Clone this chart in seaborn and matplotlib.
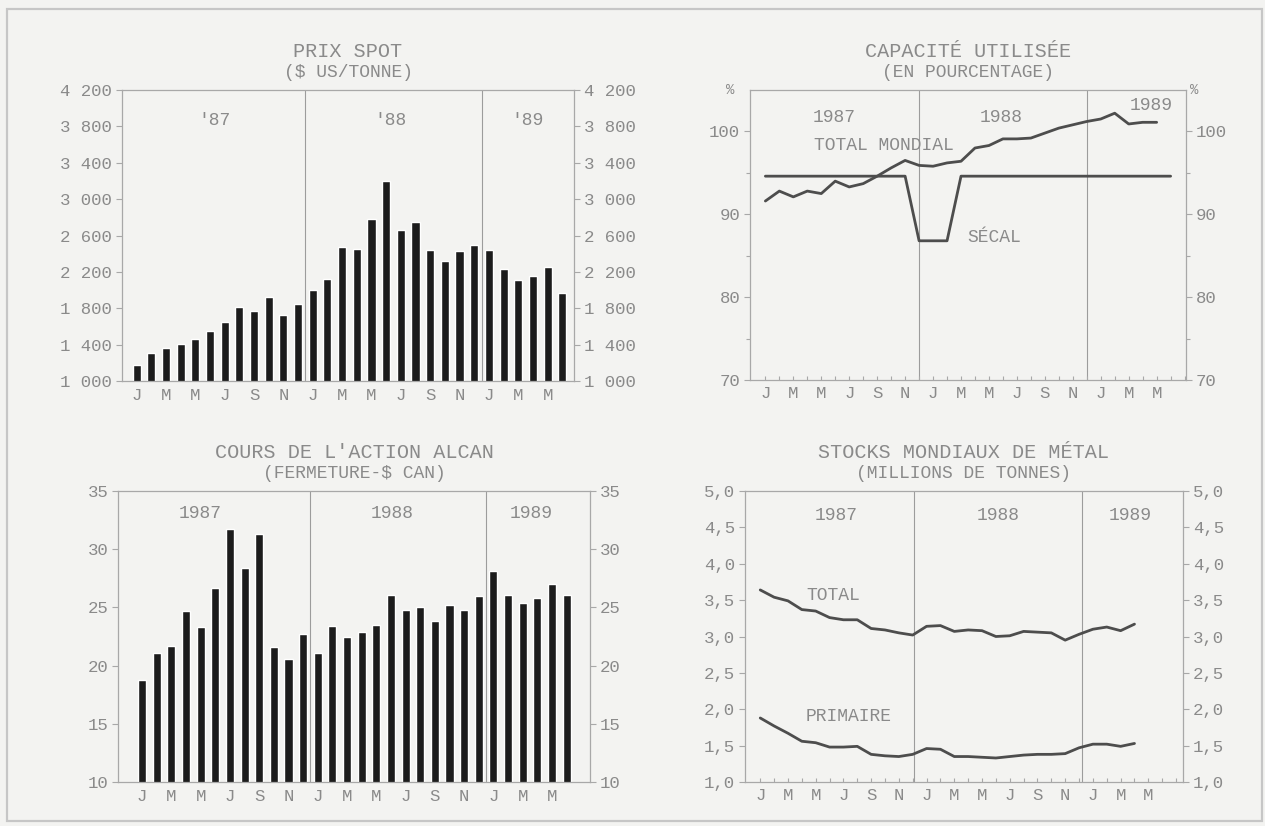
import matplotlib
matplotlib.use("Agg")
import matplotlib.pyplot as plt
import numpy as np
import pandas as pd
import seaborn as sns
from matplotlib.patches import Rectangle
from matplotlib.ticker import FuncFormatter, MultipleLocator, FixedLocator

# ---- data, Jan 1987 onwards, monthly ----
month_letters = ["J", "F", "M", "A", "M", "J", "J", "A", "S", "O", "N", "D"] * 2 + ["J", "F", "M", "A", "M", "J"]

prix_spot = [1180, 1310, 1365, 1410, 1465, 1545, 1650, 1810, 1770, 1920, 1730, 1845,
             2000, 2125, 2470, 2455, 2785, 3200, 2665, 2745, 2440, 2320, 2430, 2500,
             2445, 2230, 2110, 2150, 2250, 1970]
prix_ticks = [1000, 1400, 1800, 2200, 2600, 3000, 3400, 3800, 4200]

total_mondial = [91.6, 92.8, 92.1, 92.8, 92.5, 94.0, 93.3, 93.7, 94.6, 95.6, 96.5, 95.9,
                 95.8, 96.2, 96.4, 98.0, 98.3, 99.1, 99.1, 99.2, 99.8, 100.4, 100.8, 101.2,
                 101.5, 102.2, 100.9, 101.1, 101.1]
secal = [94.6] * 11 + [86.8] * 3 + [94.6] * 16

alcan = [18.8, 21.1, 21.7, 24.7, 23.3, 26.7, 31.7, 28.4, 31.3, 21.6, 20.6, 22.7,
         21.1, 23.4, 22.5, 22.9, 23.5, 26.1, 24.8, 25.0, 23.8, 25.2, 24.8, 26.0,
         28.1, 26.1, 25.4, 25.8, 27.0, 26.1]

stocks_total = [3.64, 3.54, 3.49, 3.37, 3.35, 3.26, 3.23, 3.23, 3.11, 3.09, 3.05, 3.02,
                3.14, 3.15, 3.07, 3.09, 3.08, 3.00, 3.01, 3.07, 3.06, 3.05, 2.95, 3.03,
                3.10, 3.13, 3.08, 3.17]
stocks_primaire = [1.88, 1.77, 1.67, 1.56, 1.54, 1.48, 1.48, 1.49, 1.38, 1.36, 1.35, 1.38,
                   1.46, 1.45, 1.35, 1.35, 1.34, 1.33, 1.35, 1.37, 1.38, 1.38, 1.39, 1.47,
                   1.52, 1.52, 1.49, 1.53]

# ---- style ----
BG = "#f3f3f1"
TXT = "#8a8a8a"
SPINE = "#a8a8a8"
BAR = "#1c1c1c"
LINE = "#4d4d4d"
W, H = 1265, 826

sns.set_theme(style="white")
plt.rcParams['font.family'] = ['Liberation Mono', 'DejaVu Sans']
plt.rcParams['text.color'] = TXT

fig = plt.figure(figsize=(W / 100, H / 100), dpi=100, facecolor=BG)


def px_axes(x0, y0, x1, y1):
    return fig.add_axes([x0 / W, 1 - y1 / H, (x1 - x0) / W, (y1 - y0) / H])


def style_axes(ax, title, subtitle, dividers, minor_x=False):
    ax.set_facecolor(BG)
    for s in ax.spines.values():
        s.set_color(SPINE)
        s.set_linewidth(0.9)
    for d in dividers:
        ax.axvline(d, color="#9c9c9c", lw=0.8, zorder=0)
    ax.set_xticks(range(0, 30, 2))
    ax.set_xticklabels(month_letters[0:30:2])
    ax.set_xlabel("")
    ax.set_ylabel("")
    ax.tick_params(axis="y", which="both", left=True, right=True, labelleft=True,
                   labelright=True, direction="out", length=4, width=0.8,
                   color=SPINE, labelcolor=TXT, labelsize=12.5, pad=3)
    ax.tick_params(axis="y", which="minor", length=3)
    if minor_x:
        ax.xaxis.set_minor_locator(FixedLocator(range(0, 31)))
        ax.tick_params(axis="x", which="both", bottom=True, direction="in", length=3,
                       width=0.8, color=SPINE, labelcolor=TXT, labelsize=12.5, pad=4)
    else:
        ax.tick_params(axis="x", bottom=True, length=0, labelcolor=TXT,
                       labelsize=12.5, pad=5)
    ax.annotate(title, xy=(0.5, 1), xycoords="axes fraction", xytext=(0, 28),
                textcoords="offset points", ha="center", va="center", fontsize=14.5)
    ax.annotate(subtitle, xy=(0.5, 1), xycoords="axes fraction", xytext=(0, 12.5),
                textcoords="offset points", ha="center", va="center", fontsize=13)


idx = list(range(30))

# ---- PRIX SPOT ----
ax1 = px_axes(122, 90, 574, 381)
sns.barplot(x=idx, y=prix_spot, color=BAR, saturation=1, width=0.55, ax=ax1, zorder=2)
ax1.set_ylim(1000, 4200)
ax1.set_xlim(-1.0, 29.8)
ax1.yaxis.set_major_locator(FixedLocator(prix_ticks))
ax1.yaxis.set_major_formatter(FuncFormatter(lambda v, p: f"{int(round(v)):,}".replace(",", " ")))
style_axes(ax1, "PRIX SPOT", "($ US/TONNE)", [11.5, 23.5])
for x, lab in [(5.3, "'87"), (17.3, "'88"), (26.6, "'89")]:
    ax1.text(x, 3860, lab, ha="center", va="center", fontsize=13)

# ---- CAPACITE UTILISEE ----
ax2 = px_axes(750, 90, 1186, 380)
sns.lineplot(x=idx[:len(total_mondial)], y=total_mondial, color=LINE, lw=2, ax=ax2)
sns.lineplot(x=idx[:len(secal)], y=secal, color=LINE, lw=2, ax=ax2)
ax2.set_ylim(70, 105)
ax2.set_xlim(-1.1, 30.1)
ax2.yaxis.set_major_locator(FixedLocator([70, 80, 90, 100]))
ax2.yaxis.set_minor_locator(FixedLocator([75, 85, 95]))
style_axes(ax2, "CAPACITÉ UTILISÉE", "(EN POURCENTAGE)", [11, 23], minor_x=True)
ax2.annotate("%", xy=(0, 1), xycoords="axes fraction", xytext=(-14, 0),
             textcoords="offset points", ha="center", va="center", fontsize=10)
ax2.annotate("%", xy=(1, 1), xycoords="axes fraction", xytext=(6, 0),
             textcoords="offset points", ha="center", va="center", fontsize=10)
ax2.text(4.9, 101.7, "1987", ha="center", va="center", fontsize=13)
ax2.text(16.9, 101.7, "1988", ha="center", va="center", fontsize=13)
ax2.text(27.6, 103.1, "1989", ha="center", va="center", fontsize=13)
ax2.text(8.5, 98.3, "TOTAL MONDIAL", ha="center", va="center", fontsize=13)
ax2.text(16.4, 87.2, "SÉCAL", ha="center", va="center", fontsize=13)

# ---- COURS DE L'ACTION ALCAN ----
ax3 = px_axes(118, 491, 590, 782)
sns.barplot(x=idx, y=alcan, color=BAR, saturation=1, width=0.55, ax=ax3, zorder=2)
ax3.set_ylim(10, 35)
ax3.set_xlim(-1.65, 30.6)
ax3.yaxis.set_major_locator(MultipleLocator(5))
style_axes(ax3, "COURS DE L'ACTION ALCAN", "(FERMETURE-$ CAN)", [11.5, 23.5])
for x, lab in [(4.0, "1987"), (17.1, "1988"), (26.6, "1989")]:
    ax3.text(x, 33.1, lab, ha="center", va="center", fontsize=13)

# ---- STOCKS MONDIAUX DE METAL ----
ax4 = px_axes(745, 491, 1183, 782)
sns.lineplot(x=idx[:len(stocks_total)], y=stocks_total, color=LINE, lw=2, ax=ax4)
sns.lineplot(x=idx[:len(stocks_primaire)], y=stocks_primaire, color=LINE, lw=2, ax=ax4)
ax4.set_ylim(1.0, 5.0)
ax4.set_xlim(-1.1, 30.5)
ax4.yaxis.set_major_locator(MultipleLocator(0.5))
ax4.yaxis.set_major_formatter(FuncFormatter(lambda v, p: f"{v:.1f}".replace(".", ",")))
style_axes(ax4, "STOCKS MONDIAUX DE MÉTAL", "(MILLIONS DE TONNES)", [11.1, 23.2], minor_x=True)
ax4.text(5.5, 4.67, "1987", ha="center", va="center", fontsize=13)
ax4.text(17.2, 4.67, "1988", ha="center", va="center", fontsize=13)
ax4.text(26.7, 4.67, "1989", ha="center", va="center", fontsize=13)
ax4.text(5.3, 3.56, "TOTAL", ha="center", va="center", fontsize=13)
ax4.text(6.4, 1.90, "PRIMAIRE", ha="center", va="center", fontsize=13)

# outer frame
fig.patches.append(Rectangle((7 / W, 1 - 821 / H), (1262 - 7) / W, (821 - 9) / H,
                             transform=fig.transFigure, fill=False,
                             ec="#c6c6c6", lw=1.6))

fig.savefig("out.png", dpi=100, facecolor=BG)
